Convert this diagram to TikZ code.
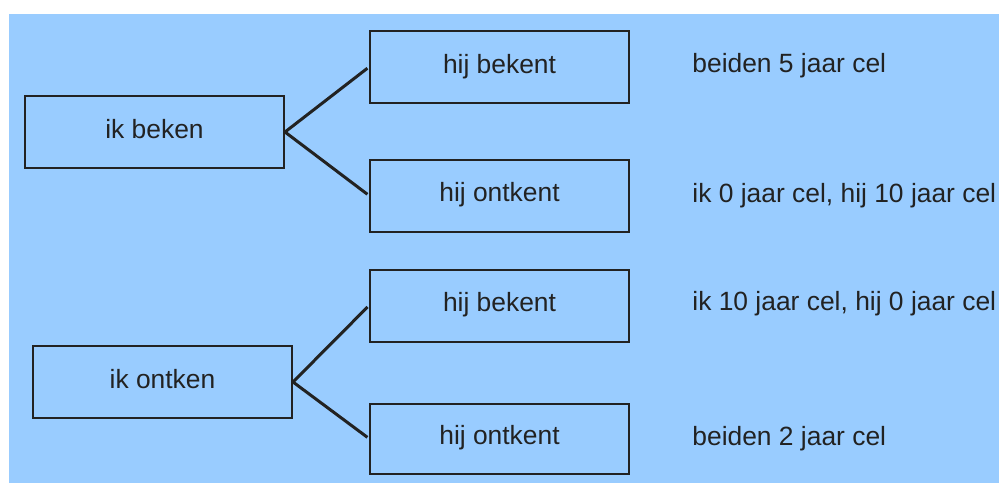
\documentclass[tikz,border=0pt]{standalone}
\usepackage{fontspec}
\setmainfont{Liberation Sans}
\definecolor{bg}{HTML}{99CCFF}
\definecolor{ink}{HTML}{222222}
\begin{document}
\begin{tikzpicture}[x=0.5pt,y=-0.5pt,
  box/.style={draw=ink,line width=1pt,rectangle,inner sep=0pt,text=ink,font=\fontsize{13.2}{15}\selectfont,text height=9pt,text depth=3pt},
  lbl/.style={anchor=base west,inner sep=0pt,text=ink,font=\fontsize{13.2}{15}\selectfont},
  conn/.style={draw=ink,line width=1.5pt,shorten >=1pt}]
\useasboundingbox (0,0) rectangle (999,483);
\fill[bg] (9,14) rectangle (999,483);
\node[box,minimum width=129.5pt,minimum height=36pt] (a) at (154.5,132) {ik beken};
\node[box,minimum width=129.5pt,minimum height=36pt] (b) at (162.5,382) {ik ontken};
\node[box,minimum width=129.5pt,minimum height=36pt] (c1) at (499.5,67) {hij bekent};
\node[box,minimum width=129.5pt,minimum height=36pt] (c2) at (499.5,195.5) {hij ontkent};
\node[box,minimum width=129.5pt,minimum height=36pt] (c3) at (499.5,305.5) {hij bekent};
\node[box,minimum width=129.5pt,minimum height=35pt] (c4) at (499.5,438.5) {hij ontkent};
\node[lbl] (t1) at (692,72) {beiden 5 jaar cel};
\node[lbl] (t2) at (692,202) {ik 0 jaar cel, hij 10 jaar cel};
\node[lbl] (t3) at (692,310) {ik 10 jaar cel, hij 0 jaar cel};
\node[lbl] (t4) at (692,445) {beiden 2 jaar cel};
\draw[conn] (a.east) -- (c1.west);
\draw[conn] (a.east) -- (c2.west);
\draw[conn] (b.east) -- (c3.west);
\draw[conn] (b.east) -- (c4.west);
\end{tikzpicture}
\end{document}
